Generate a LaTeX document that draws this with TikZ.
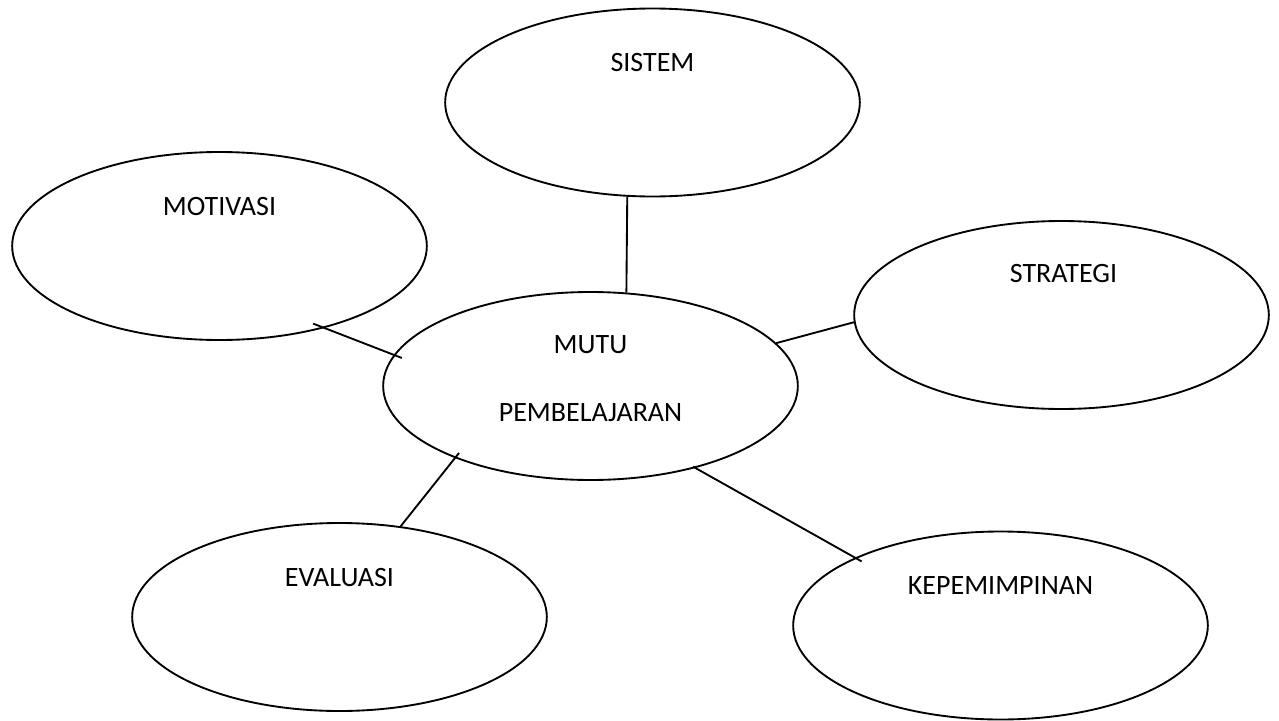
\documentclass[tikz,border=0pt]{standalone}
\usepackage{fontspec}
\setmainfont{Carlito}
\usetikzlibrary{positioning, shapes.geometric}

\begin{document}
\begin{tikzpicture}[x=0.75pt, y=-0.75pt,
  bubble/.style={ellipse, draw, line width=1.4pt, minimum width=311pt, minimum height=141pt, inner sep=0pt},
  word/.style={anchor=base, inner sep=0pt, font=\fontsize{21}{25}\selectfont},
  link/.style={line width=1.4pt}]
  \useasboundingbox (0,0) rectangle (1279,721);

  \node (sistem) [bubble] at (652.5,102.5) {};
  \node (motivasi) [bubble] at (219.5,246) {};
  \node (strategi) [bubble] at (1061.5,315) {};
  \node (mutu) [bubble] at (590.5,386) {};
  \node (evaluasi) [bubble] at (339.5,617) {};
  \node (kepemimpinan) [bubble] at (1000.5,625.5) {};

  \node (sistemtxt) [word] at ([yshift=22.9pt]sistem.center) {SISTEM};
  \node (motivasitxt) [word] at ([yshift=23.25pt]motivasi.center) {MOTIVASI};
  \node (strategitxt) [word] at ([xshift=1.5pt, yshift=24.75pt]strategi.center) {STRATEGI};
  \node (mututxt) [word] at ([yshift=24.4pt]mutu.center) {MUTU};
  \node (pembelajarantxt) [word] at ([yshift=-26.6pt]mutu.center) {PEMBELAJARAN};
  \node (evaluasitxt) [word] at ([yshift=22.9pt]evaluasi.center) {EVALUASI};
  \node (kepemimpinantxt) [word] at ([yshift=23.6pt]kepemimpinan.center) {KEPEMIMPINAN};

  \draw[link] (sistem.-105.8) -- (mutu.69);
  \draw[link, shorten <=-9pt, shorten >=-6.5pt] (motivasi.-38) -- (mutu.171.7);
  \draw[link] (mutu.13.7) -- (strategi.182);
  \draw[link, shorten <=-4.9pt] (mutu.-152) -- (evaluasi.56.5);
  \draw[link, shorten <=-2pt, shorten >=-5.8pt] (mutu.-38.6) -- (kepemimpinan.155.7);
\end{tikzpicture}
\end{document}
